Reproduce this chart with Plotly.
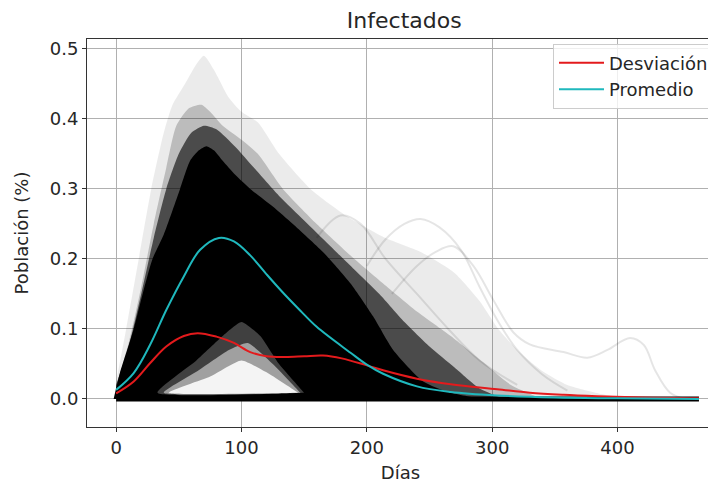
import plotly.graph_objects as go

# ---------------- data ----------------
# Mean ("Promedio") curve
mean_days = [0, 14, 27, 40, 54, 67, 82, 94, 107, 120, 133, 147, 160, 187, 200, 213, 240, 267, 304, 350, 400, 465]
mean_vals = [0.013, 0.037, 0.077, 0.127, 0.175, 0.213, 0.230, 0.225, 0.205, 0.178, 0.152, 0.126, 0.103, 0.066, 0.049, 0.036, 0.018, 0.010, 0.005, 0.002, 0.001, 0.0]

# Standard deviation ("Desviación") curve
std_days = [0, 14, 27, 40, 54, 65, 80, 94, 107, 120, 135, 150, 165, 180, 200, 213, 240, 267, 304, 330, 357, 384, 420, 465]
std_vals = [0.008, 0.025, 0.051, 0.075, 0.090, 0.094, 0.089, 0.080, 0.067, 0.061, 0.060, 0.061, 0.062, 0.058, 0.048, 0.041, 0.029, 0.021, 0.014, 0.009, 0.006, 0.004, 0.002, 0.001]

# Envelope of the simulated runs: faint outer band
faint_days = [0, 8, 18, 28, 38, 45, 55, 63, 70, 78, 90, 100, 113, 130, 155, 185, 215, 243, 270, 290, 305, 320, 340, 360, 385, 410]
faint_upper = [0.025, 0.10, 0.20, 0.30, 0.38, 0.42, 0.45, 0.475, 0.49, 0.47, 0.43, 0.41, 0.395, 0.35, 0.30, 0.26, 0.23, 0.21, 0.18, 0.14, 0.10, 0.07, 0.04, 0.02, 0.008, 0.0]

# medium-density band
mid_days = [0, 10, 20, 30, 40, 48, 58, 68, 75, 85, 100, 113, 133, 160, 187, 213, 240, 267, 293, 315, 340]
mid_upper = [0.02, 0.08, 0.16, 0.25, 0.33, 0.39, 0.415, 0.42, 0.41, 0.39, 0.37, 0.35, 0.30, 0.25, 0.205, 0.165, 0.125, 0.09, 0.052, 0.02, 0.0]

# darker band next to the core
dark_days = [0, 10, 20, 30, 40, 50, 60, 70, 80, 95, 110, 130, 150, 170, 190, 210, 230, 250, 270, 290, 310]
dark_upper = [0.02, 0.075, 0.15, 0.23, 0.30, 0.35, 0.38, 0.39, 0.385, 0.36, 0.33, 0.29, 0.255, 0.22, 0.185, 0.15, 0.11, 0.075, 0.045, 0.015, 0.0]

# dense core (solid black)
core_days = [-2, 3, 14, 22, 29, 38, 51, 59, 66, 72, 78, 85, 95, 107, 125, 141, 165, 187, 205, 221, 245, 265, 280, 295]
core_upper = [0.0, 0.037, 0.10, 0.156, 0.20, 0.235, 0.30, 0.34, 0.355, 0.361, 0.355, 0.34, 0.32, 0.30, 0.275, 0.25, 0.21, 0.165, 0.118, 0.07, 0.025, 0.01, 0.004, 0.0]

# lighter hole under the peak (runs that died out early)
hole_floor = 0.009
hole_a_days = [33, 64, 85, 100, 115, 130, 150]
hole_a_upper = [0.009, 0.055, 0.09, 0.11, 0.09, 0.05, 0.009]
hole_b_days = [38, 65, 90, 105, 125, 147]
hole_b_upper = [0.009, 0.04, 0.07, 0.08, 0.05, 0.009]
hole_c_days = [42, 75, 100, 120, 145]
hole_c_upper = [0.009, 0.032, 0.055, 0.038, 0.009]

# a few isolated late runs
late_a_days = [220, 240, 255, 269, 285, 301, 317, 330, 357, 376, 392, 410, 421, 430, 442, 455]
late_a_vals = [0.15, 0.19, 0.21, 0.218, 0.19, 0.141, 0.095, 0.078, 0.067, 0.059, 0.070, 0.087, 0.077, 0.041, 0.009, 0.0]
late_b_days = [200, 215, 230, 243, 258, 275, 290, 305, 320, 340, 360]
late_b_vals = [0.19, 0.228, 0.25, 0.257, 0.245, 0.213, 0.16, 0.11, 0.07, 0.035, 0.012]
late_c_days = [160, 179, 195, 215, 240, 265, 290, 320]
late_c_vals = [0.23, 0.262, 0.25, 0.20, 0.15, 0.10, 0.055, 0.02]

# runs that stay at zero
zero_days = [0, 465]
zero_vals = [0.0, 0.0]

x_ticks = [0, 100, 200, 300, 400]
y_ticks = [0.0, 0.1, 0.2, 0.3, 0.4, 0.5]

# ---------------- figure ----------------
fig = go.Figure()

def band(xs, ys, color):
    fig.add_trace(go.Scatter(x=xs, y=ys, mode="lines", line=dict(width=0, shape="spline", smoothing=0.6),
                             fill="tozeroy", fillcolor=color, showlegend=False, hoverinfo="skip"))

band(faint_days, faint_upper, "rgba(0,0,0,0.08)")
band(mid_days, mid_upper, "rgba(0,0,0,0.2)")
band(dark_days, dark_upper, "rgba(0,0,0,0.6)")
band(core_days, core_upper, "rgba(0,0,0,1)")

def hole(xs, ys, color):
    px = list(xs) + [xs[-1], xs[0]]
    py = list(ys) + [hole_floor, hole_floor]
    fig.add_trace(go.Scatter(x=px, y=py, mode="lines", line=dict(width=0, shape="spline", smoothing=0.5),
                             fill="toself", fillcolor=color, showlegend=False, hoverinfo="skip"))

hole(hole_a_days, hole_a_upper, "rgba(255,255,255,0.25)")
hole(hole_b_days, hole_b_upper, "rgba(255,255,255,0.5)")
hole(hole_c_days, hole_c_upper, "rgba(255,255,255,0.88)")

for xs, ys in [(late_a_days, late_a_vals), (late_b_days, late_b_vals), (late_c_days, late_c_vals)]:
    fig.add_trace(go.Scatter(x=xs, y=ys, mode="lines", line=dict(color="rgba(0,0,0,0.10)", width=2, shape="spline"),
                             showlegend=False, hoverinfo="skip"))

fig.add_trace(go.Scatter(x=zero_days, y=zero_vals, mode="lines", line=dict(color="black", width=5),
                         showlegend=False, hoverinfo="skip"))

fig.add_trace(go.Scatter(x=std_days, y=std_vals, mode="lines", name="Desviación",
                         line=dict(color="#e31a1c", width=2, shape="spline")))
fig.add_trace(go.Scatter(x=mean_days, y=mean_vals, mode="lines", name="Promedio",
                         line=dict(color="#1fb8bd", width=2, shape="spline")))

font = "DejaVu Sans"
axis_common = dict(showgrid=True, gridcolor="#b0b0b0", gridwidth=1, zeroline=False,
                   showline=True, linecolor="#333333", linewidth=1, automargin=False,
                   ticks="outside", ticklen=4, tickcolor="#333333",
                   tickfont=dict(family=font, size=18, color="#262626"))

# the page has an 8px body margin; the figure is sized to fit the rest
W, H = 708, 477
fig.update_layout(
    width=W, height=H,
    margin=dict(l=79, r=2, t=31, b=58),
    paper_bgcolor="white", plot_bgcolor="white",
    font=dict(family=font, color="#262626"),
    title=dict(text="Infectados", x=0.506, xref="paper", xanchor="center",
               y=1 - 12 / H, yref="container", yanchor="middle",
               font=dict(family=font, size=22, color="#262626")),
    xaxis=dict(range=[-23.25, 477], tickvals=x_ticks, mirror=True,
               title=dict(text="Días", font=dict(family=font, size=18), standoff=9),
               **axis_common),
    yaxis=dict(range=[-0.04, 0.514], tickvals=y_ticks, ticktext=[f"{v:.1f}" for v in y_ticks],
               title=dict(text="Población (%)", font=dict(family=font, size=18), standoff=16),
               **axis_common),
    legend=dict(x=1.0, xanchor="right", y=0.988, yanchor="top",
                bgcolor="rgba(255,255,255,0.8)", bordercolor="#cccccc", borderwidth=1,
                font=dict(family=font, size=18, color="#262626"), itemwidth=45,
                tracegroupgap=0),
)

fig.write_html("out.html")
